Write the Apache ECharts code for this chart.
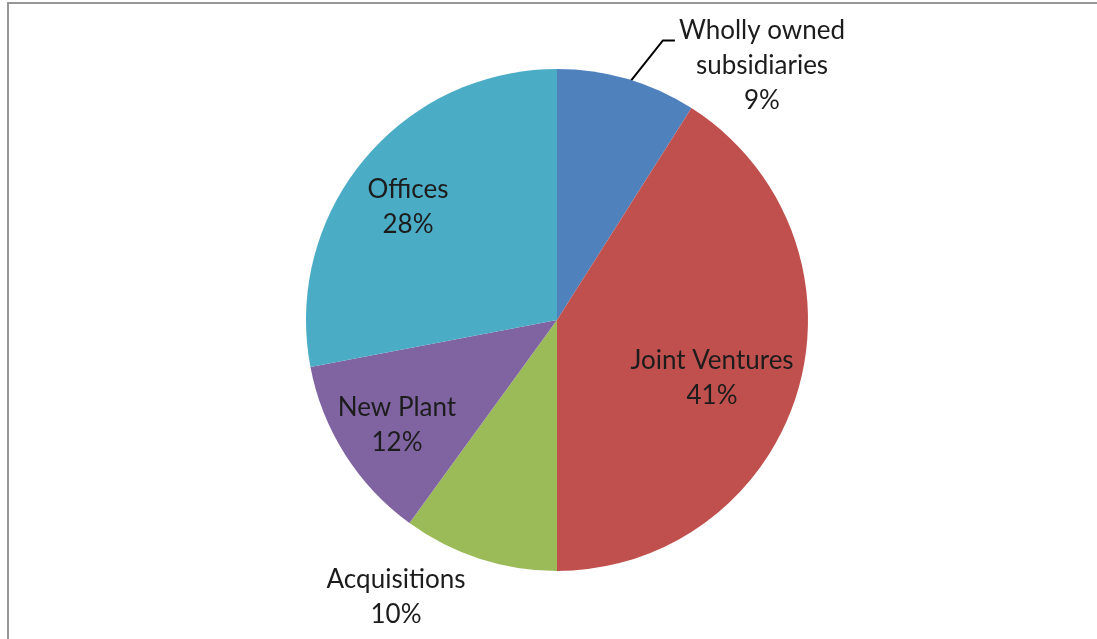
<!DOCTYPE html>
<html>
<head>
<meta charset="utf-8">
<script src="https://cdn.jsdelivr.net/npm/echarts@6/dist/echarts.min.js"></script>
<style>
  html, body { margin: 0; padding: 0; background: #ffffff; }
  #frame { position: absolute; left: 7px; top: 2px; width: 1090px; height: 637px;
           border-left: 2px solid #979797; border-top: 2px solid #979797; box-sizing: border-box; }
  #chart { position: absolute; left: 0; top: 0; width: 1097px; height: 639px; }
</style>
</head>
<body>
<div id="frame"></div>
<div id="chart"></div>
<script>
// Data
const categories = ['Wholly owned\nsubsidiaries', 'Joint Ventures', 'Acquisitions', 'New Plant', 'Offices'];
const shares = [9, 41, 10, 12, 28];
const colors = ['#4F81BD', '#C0504D', '#9BBB59', '#8064A2', '#4BACC6'];

// Label placement (layout only, centre of each label block)
const labelPos = [[762, 66], [712, 378], [396, 597], [397, 425], [408, 207]];

const chart = echarts.init(document.getElementById('chart'), null, { renderer: 'canvas' });
chart.setOption({
  animation: false,
  backgroundColor: 'transparent',
  series: [{
    type: 'pie',
    center: [557, 320],
    radius: 251,
    startAngle: 90,
    clockwise: true,
    avoidLabelOverlap: false,
    itemStyle: { borderWidth: 0 },
    label: {
      show: true,
      position: 'outside',
      formatter: p => p.name + '\n' + p.value + '%',
      fontFamily: 'Lato',
      fontSize: 26,
      lineHeight: 35,
      color: '#1c1c1c',
      align: 'center'
    },
    labelLine: { show: false },
    labelLayout: function (params) {
      const pos = labelPos[params.dataIndex];
      const out = { x: pos[0], y: pos[1], align: 'center', verticalAlign: 'middle' };
      if (params.dataIndex === 0 && params.labelLinePoints) {
        const r = params.labelRect;
        const dx = pos[0] - (r.x + r.width / 2);
        const dy = pos[1] - (r.y + r.height / 2);
        const left = r.x + dx;
        const top = r.y + dy;
        const start = params.labelLinePoints[0];
        out.labelLinePoints = [
          [start[0] + 3, start[1] + 3],
          [left - 16, top + 27],
          [left - 4, top + 27]
        ];
      }
      return out;
    },
    data: categories.map((c, i) => ({
      name: c,
      value: shares[i],
      itemStyle: { color: colors[i] },
      labelLine: i === 0 ? { show: true, length: 30, length2: 14, lineStyle: { color: '#000', width: 2 } } : { show: false }
    }))
  }]
});
</script>
</body>
</html>
